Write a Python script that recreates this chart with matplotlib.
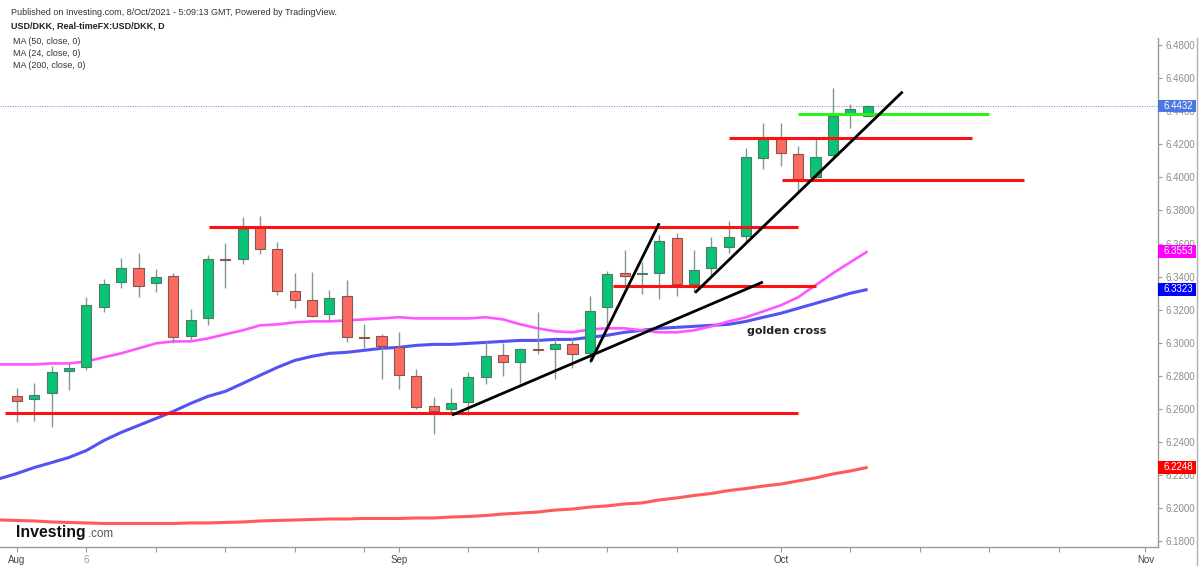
import matplotlib
matplotlib.use("Agg")
import matplotlib.pyplot as plt
import matplotlib.transforms as mtransforms
from matplotlib.patches import Rectangle
from matplotlib.lines import Line2D
import numpy as np

plt.rcParams['font.family'] = ['Liberation Sans', 'DejaVu Sans']

# USD/DKK daily candles, trading days Aug 2 .. Oct 8 2021 (index 0..49)
opens = [6.2677, 6.2664, 6.2695, 6.2828, 6.2852, 6.3215, 6.3366, 6.3451, 6.3360, 6.3403,
         6.3040, 6.3148, 6.3508, 6.3505, 6.3699, 6.3566, 6.3312, 6.3257, 6.3173, 6.3282,
         6.3034, 6.3040, 6.2973, 6.2798, 6.2616, 6.2598, 6.2640, 6.2792, 6.2925, 6.2882,
         6.2961, 6.2961, 6.2991, 6.2937, 6.3215, 6.3421, 6.3415, 6.3421, 6.3632, 6.3354,
         6.3451, 6.3578, 6.3645, 6.4116, 6.4237, 6.4141, 6.4001, 6.4135, 6.4383, 6.4370]
highs = [6.2725, 6.2755, 6.2858, 6.2876, 6.3276, 6.3384, 6.3511, 6.3542, 6.3445, 6.3421,
         6.3203, 6.3530, 6.3602, 6.3759, 6.3766, 6.3608, 6.3421, 6.3427, 6.3318, 6.3378,
         6.3112, 6.3052, 6.3064, 6.2840, 6.2671, 6.2725, 6.2822, 6.3009, 6.2997, 6.2967,
         6.3185, 6.3021, 6.3027, 6.3282, 6.3433, 6.3560, 6.3487, 6.3651, 6.3663, 6.3560,
         6.3638, 6.3735, 6.4177, 6.4328, 6.4328, 6.4189, 6.4237, 6.4540, 6.4443, 6.4437]
lows = [6.2519, 6.2531, 6.2489, 6.2713, 6.2834, 6.3185, 6.3330, 6.3276, 6.3306, 6.2997,
        6.3015, 6.3106, 6.3330, 6.3475, 6.3536, 6.3288, 6.3209, 6.3155, 6.3136, 6.3003,
        6.2967, 6.2779, 6.2719, 6.2598, 6.2447, 6.2562, 6.2562, 6.2749, 6.2798, 6.2755,
        6.2931, 6.2779, 6.2846, 6.2876, 6.3094, 6.3336, 6.3294, 6.3263, 6.3282, 6.3306,
        6.3409, 6.3542, 6.3602, 6.4050, 6.4068, 6.3917, 6.3995, 6.4122, 6.4298, 6.4370]
closes = [6.2646, 6.2683, 6.2822, 6.2846, 6.3227, 6.3354, 6.3451, 6.3342, 6.3396, 6.3034,
          6.3136, 6.3505, 6.3502, 6.3687, 6.3566, 6.3312, 6.3257, 6.3161, 6.3269, 6.3034,
          6.3028, 6.2979, 6.2804, 6.2610, 6.2586, 6.2634, 6.2792, 6.2919, 6.2882, 6.2961,
          6.2955, 6.2991, 6.2931, 6.3191, 6.3415, 6.3403, 6.3421, 6.3614, 6.3354, 6.3439,
          6.3578, 6.3638, 6.4122, 6.4231, 6.4147, 6.3989, 6.4122, 6.4370, 6.4413, 6.4432]

# moving averages, Jul 30 (index -1) .. Oct 8
ma_days = list(range(-1, 50))
ma24 = [6.2870, 6.2870, 6.2870, 6.2876, 6.2876, 6.2888, 6.2913, 6.2937, 6.2967, 6.2997,
        6.3009, 6.3009, 6.3027, 6.3052, 6.3076, 6.3106, 6.3112, 6.3124, 6.3130, 6.3130,
        6.3136, 6.3142, 6.3148, 6.3155, 6.3148, 6.3148, 6.3148, 6.3148, 6.3155, 6.3142,
        6.3112, 6.3088, 6.3070, 6.3064, 6.3082, 6.3088, 6.3088, 6.3076, 6.3064, 6.3064,
        6.3076, 6.3100, 6.3130, 6.3155, 6.3191, 6.3227, 6.3276, 6.3348, 6.3421, 6.3487,
        6.3553]
ma50 = [6.2180, 6.2211, 6.2247, 6.2277, 6.2308, 6.2350, 6.2410, 6.2459, 6.2501, 6.2543,
        6.2586, 6.2634, 6.2677, 6.2707, 6.2755, 6.2804, 6.2852, 6.2894, 6.2919, 6.2937,
        6.2943, 6.2955, 6.2967, 6.2973, 6.2985, 6.2991, 6.2991, 6.2997, 6.3003, 6.3009,
        6.3015, 6.3015, 6.3021, 6.3021, 6.3034, 6.3046, 6.3064, 6.3076, 6.3088, 6.3094,
        6.3100, 6.3106, 6.3112, 6.3130, 6.3155, 6.3179, 6.3209, 6.3239, 6.3269, 6.3300,
        6.3323]
ma200 = [6.1930, 6.1927, 6.1924, 6.1918, 6.1915, 6.1912, 6.1909, 6.1909, 6.1909, 6.1909,
         6.1909, 6.1912, 6.1912, 6.1915, 6.1918, 6.1924, 6.1927, 6.1930, 6.1933, 6.1936,
         6.1936, 6.1939, 6.1939, 6.1939, 6.1942, 6.1942, 6.1948, 6.1951, 6.1957, 6.1966,
         6.1972, 6.1978, 6.1990, 6.1996, 6.2008, 6.2015, 6.2027, 6.2033, 6.2051, 6.2063,
         6.2078, 6.2090, 6.2108, 6.2120, 6.2135, 6.2147, 6.2166, 6.2184, 6.2208, 6.2226,
         6.2248]

# date axis: trading-day index of each tick and its label
tick_days = [0, 4, 8, 12, 16, 20, 22, 26, 30, 34, 38, 44, 48, 52, 56, 60, 65]
tick_names = {0: "Aug", 4: "6", 22: "Sep", 44: "Oct", 65: "Nov"}
price_ticks = np.arange(6.18, 6.4801, 0.02)

# hand-drawn levels (price, from day, to day) and trend lines (day0, p0, day1, p1)
red_levels = [(6.3698, 11.06, 45.0), (6.2575, -0.69, 45.0), (6.3344, 34.35, 46.0),
              (6.4236, 41.0, 55.0), (6.3984, 44.05, 58.0)]
green_levels = [(6.4381, 45.0, 56.0)]
trend_lines = [(25.06, 6.2564, 42.97, 6.3368),
               (33.05, 6.2886, 37.0, 6.3723),
               (39.06, 6.3303, 51.02, 6.4518)]
note_text = "golden cross"
note_pos = (42.07, 6.3054)

last_price = 6.4432
price_boxes = [(last_price, '#4b77e0'), (ma24[-1], '#ff00ff'), (ma50[-1], '#0000ff'), (ma200[-1], '#ff0000')]

UP, UP_EDGE = '#08c477', '#4f7a63'
DOWN, DOWN_EDGE = '#fb6b5f', '#8a5550'
WICK = '#7f9a8c'

fig = plt.figure(figsize=(12, 5.66), dpi=100)
ax = fig.add_axes([0, 19 / 566, 1158 / 1200, 509 / 566])

# moving averages under the candles
ax.plot(ma_days, ma200, color='#ff5a5a', lw=2.2, zorder=2, solid_capstyle='butt')
ax.plot(ma_days, ma50, color='#5252f5', lw=2.2, zorder=2, solid_capstyle='butt')
ax.plot(ma_days, ma24, color='#ff55ff', lw=1.9, zorder=2, solid_capstyle='butt')

# candles
o, h, l, c = map(np.array, (opens, highs, lows, closes))
days = np.arange(len(o))
up = c >= o
ax.vlines(days, l, h, color=WICK, lw=1.0, zorder=3)
body_low = np.minimum(o, c)
body_h = np.maximum(np.abs(c - o), 0.0004)
ax.bar(days[up], body_h[up], bottom=body_low[up], width=0.58, color=UP,
       edgecolor=UP_EDGE, linewidth=0.8, zorder=4)
ax.bar(days[~up], body_h[~up], bottom=body_low[~up], width=0.58, color=DOWN,
       edgecolor=DOWN_EDGE, linewidth=0.8, zorder=4)

# last price dotted line
ax.axhline(last_price, color='#7f9be8', lw=0.8, ls=(0, (1, 1.2)), zorder=1)

# drawings
for p, d0, d1 in red_levels:
    ax.plot([d0, d1], [p, p], color='#ff1010', lw=2.2, zorder=5, solid_capstyle='butt')
for p, d0, d1 in green_levels:
    ax.plot([d0, d1], [p, p], color='#2ef01c', lw=2.2, zorder=5, solid_capstyle='butt')
for d0, p0, d1, p1 in trend_lines:
    ax.plot([d0, d1], [p0, p1], color='black', lw=2.0, zorder=6, solid_capstyle='butt')
ax.text(note_pos[0], note_pos[1], note_text, fontfamily='DejaVu Sans', fontweight='bold',
        fontsize=8, color='#222222', va='baseline', ha='left', zorder=7)

ax.set_xlim(-0.979, 65.73)
ax.set_ylim(6.17667, 6.48423)

# axes styling
for side in ('left', 'top'):
    ax.spines[side].set_visible(False)
for side in ('right', 'bottom'):
    ax.spines[side].set_color('#9a9a9a')
    ax.spines[side].set_linewidth(1.0)

ax.yaxis.tick_right()
ax.set_yticks(price_ticks)
ax.set_yticklabels([f"{v:.4f}" for v in price_ticks])
ax.tick_params(axis='y', direction='out', length=3, width=0.8, pad=2.5,
               color='#9a9a9a', labelcolor='#8c8c8c', labelsize=7)

ax.set_xticks(tick_days)
ax.set_xticklabels([tick_names.get(d, '') for d in tick_days])
ax.tick_params(axis='x', direction='out', length=3.5, width=0.8, pad=2,
               color='#9a9a9a', labelcolor='#444444', labelsize=7)
for lab, d in zip(ax.get_xticklabels(), tick_days):
    if tick_names.get(d) == "6":
        lab.set_color('#9a9a9a')

# coloured value boxes on the price scale
trans = mtransforms.blended_transform_factory(ax.transAxes, ax.transData)
box_w = 38 / 1158
box_h = 12.5 / 1655
for v, col in price_boxes:
    ax.add_patch(Rectangle((1.0, v - box_h / 2), box_w, box_h, transform=trans,
                           facecolor=col, edgecolor='none', clip_on=False, zorder=10))
    ax.text(1 + 5.5 / 1158, v, f"{v:.4f}", transform=trans, color='white', fontsize=7,
            va='center', ha='left', zorder=11, clip_on=False)

# outer frame line at the right
fig.add_artist(Line2D([1197 / 1200, 1197 / 1200], [0, 1 - 38 / 566], transform=fig.transFigure,
                      color='#b0b0b0', lw=1.0))

# header
fig.text(11 / 1200, 1 - 15 / 566, "Published on Investing.com, 8/Oct/2021 - 5:09:13 GMT, Powered by TradingView.",
         fontsize=6.5, color='#333333', va='baseline')
fig.text(11 / 1200, 1 - 28 / 566, "USD/DKK, Real-timeFX:USD/DKK, D",
         fontsize=6.5, fontweight='bold', color='#222222', va='baseline')
for k, s in enumerate(["MA (50, close, 0)", "MA (24, close, 0)", "MA (200, close, 0)"]):
    fig.text(13 / 1200, 1 - (44.5 + 12 * k) / 566, s, fontsize=6.4, color='#333333', va='baseline')

# watermark logo
fig.text(16 / 1200, 1 - 537 / 566, "Investing", fontsize=11.4, fontweight='bold',
         color='#111111', va='baseline')
fig.text(88 / 1200, 1 - 537 / 566, ".com", fontsize=8.4, color='#555555', va='baseline')

fig.savefig('out.png', dpi=100)
